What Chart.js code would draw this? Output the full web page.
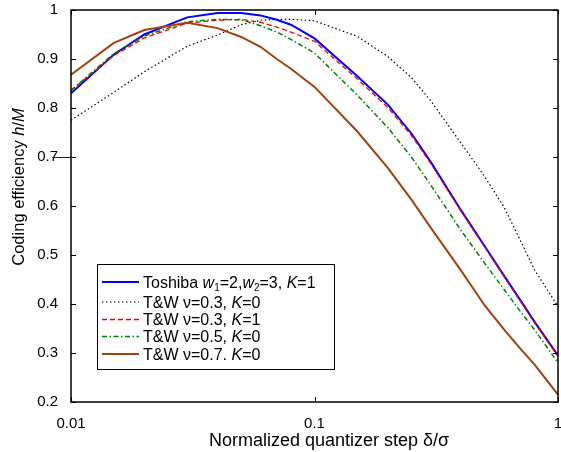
<!DOCTYPE html>
<html>
<head>
<meta charset="utf-8">
<script src="https://cdn.jsdelivr.net/npm/chart.js@4.4.0/dist/chart.umd.min.js"></script>
<style>
  html, body { margin: 0; padding: 0; background: #fff; }
</style>
</head>
<body>
<canvas id="chart" width="561" height="452"></canvas>
<script>
// quantizer step delta/sigma (log axis)
const steps = [0.01, 0.015, 0.02, 0.03, 0.04, 0.05, 0.06, 0.07, 0.08, 0.1,
               0.15, 0.2, 0.25, 0.3, 0.4, 0.5, 0.6, 0.7, 0.8, 1];

// coding efficiency h/M for each scheme
const toshiba = [0.830, 0.909, 0.950, 0.985, 0.994, 0.994, 0.989, 0.980, 0.970, 0.942,
                 0.865, 0.807, 0.748, 0.690, 0.591, 0.518, 0.458, 0.408, 0.364, 0.295];
const tw03k0  = [0.775, 0.832, 0.874, 0.926, 0.949, 0.970, 0.979, 0.981, 0.981, 0.978,
                 0.946, 0.905, 0.862, 0.815, 0.728, 0.660, 0.598, 0.530, 0.470, 0.395];
const tw03k1  = [0.836, 0.907, 0.943, 0.973, 0.979, 0.981, 0.975, 0.965, 0.955, 0.936,
                 0.859, 0.801, 0.744, 0.687, 0.589, 0.516, 0.456, 0.406, 0.362, 0.293];
const tw05k0  = [0.836, 0.911, 0.947, 0.976, 0.981, 0.980, 0.968, 0.955, 0.940, 0.912,
                 0.826, 0.760, 0.700, 0.643, 0.550, 0.483, 0.430, 0.385, 0.348, 0.280];
const tw07k0  = [0.868, 0.933, 0.959, 0.974, 0.963, 0.945, 0.925, 0.900, 0.880, 0.843,
                 0.752, 0.678, 0.613, 0.556, 0.468, 0.397, 0.348, 0.309, 0.277, 0.215];

const xTicks = [0.01, 0.1, 1];
const yTicks = [0.2, 0.3, 0.4, 0.5, 0.6, 0.7, 0.8, 0.9, 1];

const FONT = "'Liberation Sans', Arial, Helvetica, sans-serif";

// text runs: [text, style] with style n = normal, i = italic, s = subscript
const legendItems = [
    { color: "#0000ff", width: 2,   dash: [],              runs: [["Toshiba ", "n"], ["w", "i"], ["1", "s"], ["=2,", "n"], ["w", "i"], ["2", "s"], ["=3, ", "n"], ["K", "i"], ["=1", "n"]] },
    { color: "#000000", width: 1.2, dash: [1.5, 2.5],      runs: [["T&W \u03bd=0.3, ", "n"], ["K", "i"], ["=0", "n"]] },
    { color: "#ff0000", width: 1.3, dash: [5, 3],          runs: [["T&W \u03bd=0.3, ", "n"], ["K", "i"], ["=1", "n"]] },
    { color: "#008000", width: 1.5, dash: [5, 2.5, 1.5, 2.5], runs: [["T&W \u03bd=0.5, ", "n"], ["K", "i"], ["=0", "n"]] },
    { color: "#a3410f", width: 2,   dash: [],              runs: [["T&W \u03bd=0.7. ", "n"], ["K", "i"], ["=0", "n"]] },
];
const series = [toshiba, tw03k0, tw03k1, tw05k0, tw07k0];
const drawOrder = [5, 4, 3, 2, 1];

function runFont(style, size) {
    if (style === "i") return "italic " + size + "px " + FONT;
    if (style === "s") return Math.round(size * 0.62) + "px " + FONT;
    return size + "px " + FONT;
}

function runsWidth(ctx, runs, size) {
    let w = 0;
    for (const [t, st] of runs) {
        ctx.font = runFont(st, size);
        w += ctx.measureText(t).width;
    }
    return w;
}

function drawRuns(ctx, runs, x, y, size) {
    ctx.textBaseline = "alphabetic";
    ctx.textAlign = "left";
    for (const [t, st] of runs) {
        ctx.font = runFont(st, size);
        ctx.fillText(t, x, st === "s" ? y + size * 0.2 : y);
        x += ctx.measureText(t).width;
    }
}

const framePlugin = {
    id: "frame",
    afterDraw(chart) {
        const { ctx, chartArea: a, scales } = chart;
        const xs = scales.x, ys = scales.y;
        ctx.save();
        ctx.strokeStyle = "#000";
        ctx.lineWidth = 1.5;
        ctx.setLineDash([]);
        ctx.strokeRect(a.left, a.top, a.right - a.left, a.bottom - a.top);

        // inward tick marks on all four sides
        ctx.lineWidth = 1;
        ctx.beginPath();
        for (const v of yTicks) {
            const py = Math.round(ys.getPixelForValue(v)) + 0.5;
            ctx.moveTo(a.left, py); ctx.lineTo(a.left + 5, py);
            ctx.moveTo(a.right, py); ctx.lineTo(a.right - 5, py);
        }
        for (const v of xTicks) {
            const px = Math.round(xs.getPixelForValue(v)) + 0.5;
            ctx.moveTo(px, a.bottom); ctx.lineTo(px, a.bottom - 5);
            ctx.moveTo(px, a.top); ctx.lineTo(px, a.top + 5);
        }
        ctx.stroke();

        // stray blue stroke next to the 0.7 label, as in the source figure
        const p07 = Math.round(ys.getPixelForValue(0.7)) + 0.5;
        ctx.strokeStyle = "#0000ff";
        ctx.beginPath();
        ctx.moveTo(52, p07); ctx.lineTo(a.left, p07);
        ctx.stroke();

        // legend box
        const bx = 97, by = 264, bw = 237, bh = 105;
        ctx.fillStyle = "#fff";
        ctx.fillRect(bx, by, bw, bh);
        ctx.strokeStyle = "#000";
        ctx.lineWidth = 1;
        ctx.strokeRect(bx + 0.5, by + 0.5, bw, bh);
        const rowY = [282, 302, 319.5, 336.5, 354];
        legendItems.forEach((it, i) => {
            const y = rowY[i];
            ctx.strokeStyle = it.color;
            ctx.lineWidth = it.width;
            ctx.setLineDash(it.dash);
            ctx.beginPath();
            ctx.moveTo(102, y); ctx.lineTo(139, y);
            ctx.stroke();
            ctx.setLineDash([]);
            ctx.fillStyle = "#000";
            drawRuns(ctx, it.runs, 143, y + 5.5, 16);
        });

        // axis titles
        ctx.fillStyle = "#000";
        const xt = [["Normalized quantizer step \u03b4/\u03c3", "n"]];
        const xw = runsWidth(ctx, xt, 18);
        drawRuns(ctx, xt, 329 - xw / 2, 446, 18);

        const yt = [["Coding efficiency ", "n"], ["h", "i"], ["/", "n"], ["M", "i"]];
        const yw = runsWidth(ctx, yt, 16.5);
        ctx.translate(24, 187);
        ctx.rotate(-Math.PI / 2);
        drawRuns(ctx, yt, -yw / 2, 0, 16.5);
        ctx.restore();
    }
};

new Chart(document.getElementById("chart"), {
    type: "line",
    data: {
        labels: steps,
        datasets: series.map((vals, i) => ({
            data: vals.map((v, k) => ({ x: steps[k], y: v })),
            borderColor: legendItems[i].color,
            borderWidth: legendItems[i].width,
            borderDash: legendItems[i].dash,
            pointRadius: 0,
            fill: false,
            tension: 0,
            order: drawOrder[i],
        })),
    },
    options: {
        responsive: false,
        animation: false,
        devicePixelRatio: 1,
        layout: { padding: { top: 10, right: 3, left: 0, bottom: 0 } },
        plugins: {
            legend: { display: false },
            tooltip: { enabled: false },
        },
        scales: {
            x: {
                type: "logarithmic",
                min: 0.01,
                max: 1,
                grid: { display: false },
                border: { display: false },
                afterBuildTicks: s => { s.ticks = xTicks.map(v => ({ value: v })); },
                afterFit: s => { s.height = 50; s.paddingLeft = 0; s.paddingRight = 0; },
                ticks: {
                    autoSkip: false,
                    maxRotation: 0,
                    padding: 5,
                    color: "#000",
                    font: { family: FONT, size: 15 },
                    callback: v => String(v),
                },
            },
            y: {
                min: 0.2,
                max: 1,
                grid: { display: false },
                border: { display: false },
                afterBuildTicks: s => { s.ticks = yTicks.map(v => ({ value: v })); },
                afterFit: s => { s.width = 71; s.paddingTop = 0; s.paddingBottom = 0; },
                ticks: {
                    padding: 5,
                    color: "#000",
                    font: { family: FONT, size: 15 },
                    callback: v => String(Math.round(v * 10) / 10),
                },
            },
        },
    },
    plugins: [framePlugin],
});
</script>
</body>
</html>
